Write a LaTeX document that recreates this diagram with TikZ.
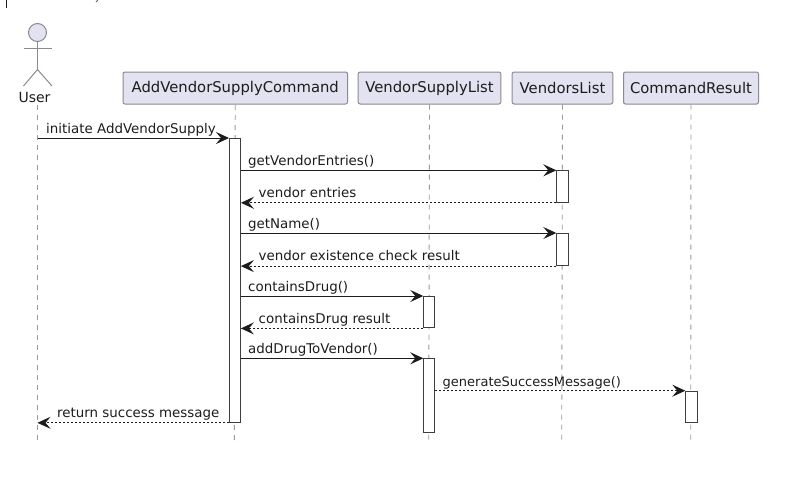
\documentclass[tikz,border=0pt]{standalone}
\usepackage{fontspec}
\setmainfont{DejaVu Sans}
\usetikzlibrary{arrows.meta}
\definecolor{boxfill}{HTML}{E2E2F0}
\definecolor{boxline}{HTML}{8A8A92}
\definecolor{lifeline}{HTML}{9A9A9A}
\definecolor{ink}{HTML}{1C1C1C}
\tikzset{
  x=1pt,y=-1pt,
  participant/.style={draw=boxline,fill=boxfill,line width=1pt,rounded corners=2pt,inner sep=0pt,anchor=north west,text=ink,font=\fontsize{14.8}{16}\selectfont},
  lifeln/.style={draw=lifeline,line width=0.9pt,dash pattern=on 5pt off 5pt},
  actv/.style={draw=ink!85,fill=white,line width=1.1pt,inner sep=0pt,anchor=north west},
  msg/.style={draw=ink,line width=1pt,-{Stealth[length=13pt,width=12pt,inset=5pt]}},
  ret/.style={msg,dash pattern=on 2pt off 2pt},
  lbl/.style={anchor=base west,inner sep=0pt,text=ink,font=\fontsize{13.4}{15}\selectfont},
  stick/.style={draw=boxline,line width=1pt},
}
\begin{document}
\begin{tikzpicture}
\useasboundingbox (0,0) rectangle (795,483);
% participants
\node[participant,minimum width=224.5pt,minimum height=32pt] (avsc) at (122.5,71.5) {AddVendorSupplyCommand};
\node[participant,minimum width=142.6pt,minimum height=32pt] (vsl) at (357.7,71.5) {VendorSupplyList};
\node[participant,minimum width=100.6pt,minimum height=32pt] (vl) at (511.7,71.5) {VendorsList};
\node[participant,minimum width=135pt,minimum height=32pt] (cr) at (623,71.5) {CommandResult};
% actor
\node[circle,draw=boxline,fill=boxfill,line width=1pt,minimum size=18pt,inner sep=0pt] (head) at (37.5,32.5) {};
\coordinate (hip) at (37.5,69.5);
\coordinate (armL) at (23.5,48.7);
\coordinate (armR) at (52,48.7);
\coordinate (legL) at (23.5,86);
\coordinate (legR) at (52,86);
\draw[stick] (head.south) -- (hip);
\draw[stick] (armL) -- (armR);
\draw[stick] (legL) -- (hip) -- (legR);
\node[anchor=base,inner sep=0pt,text=ink,font=\fontsize{14}{16}\selectfont] (user) at (34.5,102) {User};
% lifeline ends
\coordinate (uTop) at (37.5,105);
\coordinate (uEnd) at (37.5,442);
\coordinate (aEnd) at (234.3,442);
\coordinate (sEnd) at (428.7,442);
\coordinate (vEnd) at (561.7,442);
\coordinate (cEnd) at (690.7,442);
\draw[lifeln] (uTop) -- (uEnd);
\draw[lifeln] (avsc.south |- uTop) -- (aEnd);
\draw[lifeln] (vsl.south) -- (sEnd);
\draw[lifeln] (vl.south) -- (vEnd);
\draw[lifeln] (cr.south) -- (cEnd);
% activations
\node[actv,minimum width=10.8pt,minimum height=283.7pt] (actA) at (229,138) {};
\node[actv,minimum width=11.2pt,minimum height=31.4pt] (actV1) at (556.3,170.3) {};
\node[actv,minimum width=11.2pt,minimum height=32pt] (actV2) at (556.3,233) {};
\node[actv,minimum width=11pt,minimum height=31.3pt] (actS1) at (423.3,296) {};
\node[actv,minimum width=11pt,minimum height=73.4pt] (actS2) at (423.3,358.3) {};
\node[actv,minimum width=11.2pt,minimum height=31.3pt] (actC) at (685.3,390.7) {};
% messages
\draw[msg] (uTop |- actA.north) -- (actA.north west);
\draw[msg] (actA.east |- actV1.north) -- (actV1.north west);
\draw[ret] (actV1.south west) -- (actA.east |- actV1.south);
\draw[msg] (actA.east |- actV2.north) -- (actV2.north west);
\draw[ret] (actV2.south west) -- (actA.east |- actV2.south);
\draw[msg] (actA.east |- actS1.north) -- (actS1.north west);
\draw[ret] (actS1.south west) -- (actA.east |- actS1.south);
\draw[msg] (actA.east |- actS2.north) -- (actS2.north west);
\draw[ret] (actS2.east |- actC.north) -- (actC.north west);
\draw[ret] (actA.south west) -- (uTop |- actA.south);
% labels
\node[lbl] (l1) at (46,133.5) {initiate AddVendorSupply};
\node[lbl] (l2) at (248,165.5) {getVendorEntries()};
\node[lbl] (l3) at (258.5,197) {vendor entries};
\node[lbl] (l4) at (248,228.5) {getName()};
\node[lbl] (l5) at (258.5,260) {vendor existence check result};
\node[lbl] (l6) at (248,291) {containsDrug()};
\node[lbl] (l7) at (258.5,323) {containsDrug result};
\node[lbl] (l8) at (248,353.5) {addDrugToVendor()};
\node[lbl,font=\fontsize{13}{15}\selectfont] (l9) at (442.5,386) {generateSuccessMessage()};
\node[lbl] (l10) at (57,417) {return success message};
% cropped remains at top edge
\coordinate (barA) at (6.7,0);
\coordinate (barB) at (6.7,8);
\coordinate (tickA) at (98,0);
\coordinate (tickB) at (96,2);
\draw[ink,line width=1pt] (barA) -- (barB);
\draw[ink!70,line width=0.8pt] (tickA) -- (tickB);
\end{tikzpicture}
\end{document}
